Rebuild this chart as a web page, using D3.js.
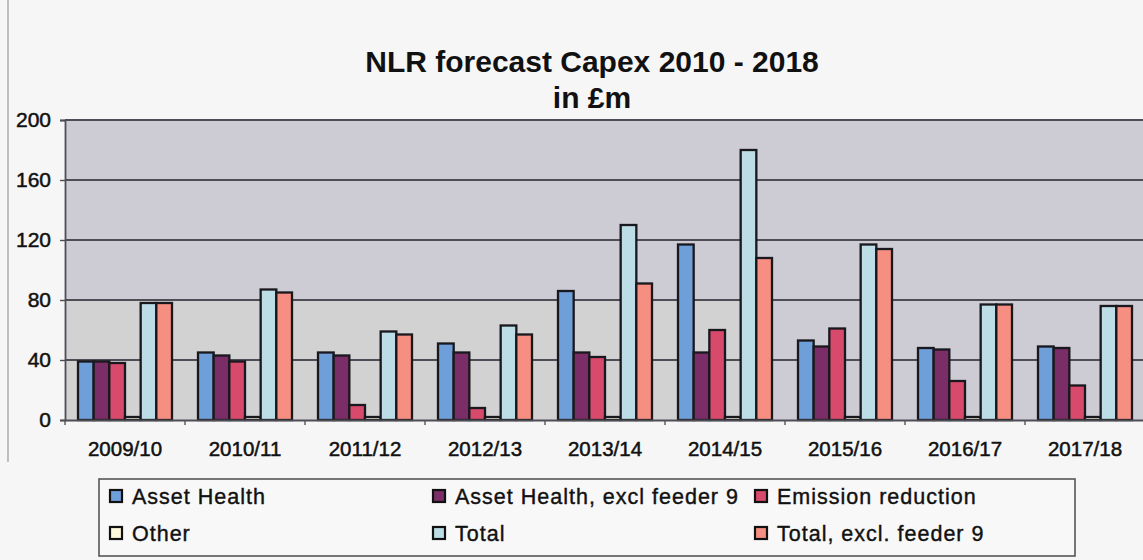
<!DOCTYPE html>
<html>
<head>
<meta charset="utf-8">
<script src="https://cdn.jsdelivr.net/npm/d3@7"></script>
<style>
  html, body { margin: 0; padding: 0; background: #f6f6f6; }
  svg { display: block; font-family: "Liberation Sans", Arial, sans-serif; }
</style>
</head>
<body>
<svg id="chart" width="1143" height="560"></svg>
<script>
// Financial years on the category axis
const categories = ["2009/10", "2010/11", "2011/12", "2012/13", "2013/14", "2014/15", "2015/16", "2016/17", "2017/18"];

// Capex per series, £m
const assetHealth         = [39, 45, 45, 51, 86, 117, 53, 48, 49];
const assetHealthExclF9   = [39, 43, 43, 45, 45, 45, 49, 47, 48];
const emissionReduction   = [38, 39, 10, 8, 42, 60, 61, 26, 23];
const other               = [2, 2, 2, 2, 2, 2, 2, 2, 2];
const total               = [78, 87, 59, 63, 130, 180, 117, 77, 76];
const totalExclF9         = [78, 85, 57, 57, 91, 108, 114, 77, 76];

const seriesNames = ["Asset Health", "Asset Health, excl feeder 9", "Emission reduction", "Other", "Total", "Total, excl. feeder 9"];
const seriesColors = ["#6f9fd8", "#7a2d66", "#d84a6b", "#fdf9df", "#bcdde6", "#f68f82"];
const yTicks = [0, 40, 80, 120, 160, 200];

const seriesValues = [assetHealth, assetHealthExclF9, emissionReduction, other, total, totalExclF9];

const svg = d3.select("#chart");

const plot = { left: 65, right: 1145, top: 120, bottom: 420 };

const x0 = d3.scaleBand().domain(categories).range([plot.left, plot.right]).padding(0);
const x1 = d3.scaleBand().domain(seriesNames).range([13, x0.bandwidth() - 13]).padding(0);
const y = d3.scaleLinear().domain([0, 200]).range([plot.bottom, plot.top]);

// outer frame of the chart
svg.append("line")
  .attr("x1", 8).attr("x2", 8).attr("y1", 0).attr("y2", 462)
  .attr("stroke", "#9a9a9a").attr("stroke-width", 1.2);

// title
svg.append("text")
  .attr("x", 592).attr("y", 72)
  .attr("text-anchor", "middle")
  .attr("font-size", 30).attr("font-weight", "bold").attr("fill", "#111")
  .text("NLR forecast Capex 2010 - 2018");
svg.append("text")
  .attr("x", 592).attr("y", 108)
  .attr("text-anchor", "middle")
  .attr("font-size", 30).attr("font-weight", "bold").attr("fill", "#111")
  .text("in £m");

// plot background
svg.append("rect")
  .attr("x", plot.left).attr("y", plot.top)
  .attr("width", plot.right - plot.left).attr("height", plot.bottom - plot.top)
  .attr("fill", "#cdcbd3");
svg.append("rect")
  .attr("x", plot.left).attr("y", y(80))
  .attr("width", 680).attr("height", y(0) - y(80))
  .attr("fill", "#d2d2d3");

// gridlines
svg.append("g")
  .selectAll("line")
  .data(yTicks.filter(d => d > 0))
  .join("line")
  .attr("x1", plot.left).attr("x2", plot.right)
  .attr("y1", d => y(d)).attr("y2", d => y(d))
  .attr("stroke", "#4e4c55").attr("stroke-width", 1.8);

// bars
const groups = svg.append("g")
  .selectAll("g")
  .data(categories)
  .join("g")
  .attr("transform", d => `translate(${x0(d)},0)`);

groups.selectAll("rect")
  .data((c, i) => seriesNames.map((s, k) => ({ series: s, value: seriesValues[k][i], color: seriesColors[k] })))
  .join("rect")
  .attr("x", d => x1(d.series))
  .attr("y", d => y(d.value))
  .attr("width", x1.bandwidth())
  .attr("height", d => y(0) - y(d.value))
  .attr("fill", d => d.color)
  .attr("stroke", "#18181e")
  .attr("stroke-width", 2.3);

// y axis
const yAxis = svg.append("g")
  .attr("transform", `translate(${plot.left},0)`)
  .call(d3.axisLeft(y).tickValues(yTicks).tickSize(5).tickPadding(9));
yAxis.select(".domain").attr("stroke", "#4e4c55").attr("stroke-width", 1.8);
yAxis.selectAll(".tick line").attr("stroke", "#4e4c55").attr("stroke-width", 1.4);
yAxis.selectAll("text")
  .attr("font-size", 21).attr("fill", "#111")
  .attr("stroke", "#111").attr("stroke-width", 0.5)
  .attr("font-family", "'Liberation Sans', Arial, sans-serif");

// x axis
const xAxis = svg.append("g")
  .attr("transform", `translate(0,${plot.bottom})`)
  .call(d3.axisBottom(x0).tickSize(0).tickPadding(21));
xAxis.select(".domain").attr("stroke", "#4e4c55").attr("stroke-width", 1.8);
xAxis.selectAll("text")
  .attr("font-size", 20.5).attr("fill", "#111")
  .attr("stroke", "#111").attr("stroke-width", 0.5)
  .attr("font-family", "'Liberation Sans', Arial, sans-serif");
// category boundary ticks
xAxis.append("g")
  .selectAll("line")
  .data(categories)
  .join("line")
  .attr("x1", d => x0(d)).attr("x2", d => x0(d))
  .attr("y1", 0).attr("y2", 5)
  .attr("stroke", "#555").attr("stroke-width", 1.4);

// legend
const legend = svg.append("g");
legend.append("rect")
  .attr("x", 99).attr("y", 479)
  .attr("width", 976).attr("height", 77)
  .attr("fill", "#f8f8f8")
  .attr("stroke", "#555").attr("stroke-width", 1.6);

const legendCols = [109, 432, 754];
const legendRows = [504, 541];
const legendItems = legend.selectAll("g.item")
  .data(seriesNames.map((s, k) => ({ name: s, color: seriesColors[k], col: k % 3, row: Math.floor(k / 3) })))
  .join("g")
  .attr("class", "item")
  .attr("transform", d => `translate(${legendCols[d.col]},${legendRows[d.row]})`);

legendItems.append("rect")
  .attr("x", 1).attr("y", -14)
  .attr("width", 12).attr("height", 12)
  .attr("fill", d => d.color)
  .attr("stroke", "#111").attr("stroke-width", 2.2);

legendItems.append("text")
  .attr("x", 23).attr("y", 0)
  .attr("font-size", 21.5).attr("fill", "#111")
  .attr("stroke", "#111").attr("stroke-width", 0.4)
  .attr("letter-spacing", 1)
  .text(d => d.name);
</script>
</body>
</html>
